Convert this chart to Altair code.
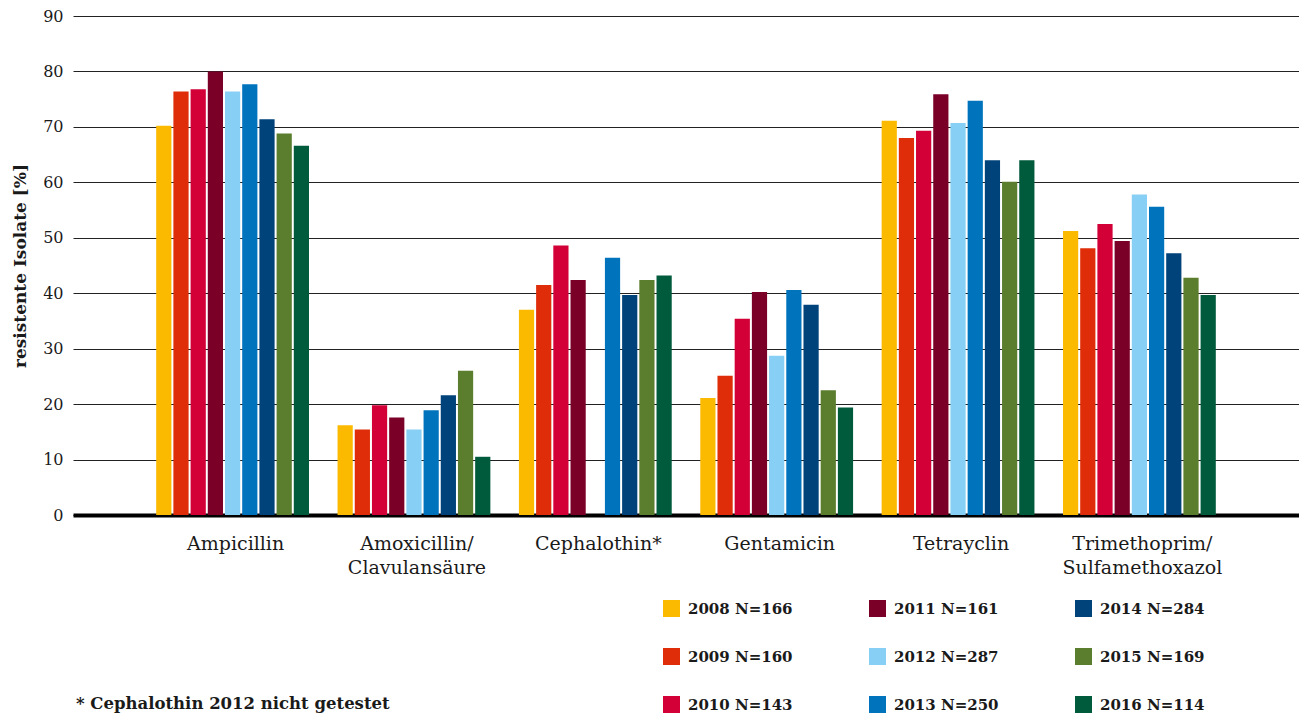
import altair as alt
import pandas as pd

# ---- data ----
categories = ["Ampicillin", "Amoxicillin/|Clavulansäure", "Cephalothin*",
              "Gentamicin", "Tetrayclin", "Trimethoprim/|Sulfamethoxazol"]
years = ["2008 N=166", "2009 N=160", "2010 N=143", "2011 N=161", "2012 N=287",
         "2013 N=250", "2014 N=284", "2015 N=169", "2016 N=114"]
colors = ["#FBBA00", "#DE2D08", "#D20037", "#7A0028", "#87CFF4",
          "#0073BD", "#00427A", "#5B7D2E", "#005A3C"]

ampicillin = [70.2, 76.4, 76.8, 80.0, 76.4, 77.7, 71.4, 68.8, 66.6]
amoxicillin = [16.2, 15.4, 19.8, 17.6, 15.4, 18.9, 21.6, 26.0, 10.5]
cephalothin = [37.0, 41.5, 48.6, 42.4, None, 46.4, 39.7, 42.4, 43.2]
gentamicin = [21.1, 25.1, 35.4, 40.2, 28.7, 40.6, 37.9, 22.5, 19.4]
tetracyclin = [71.1, 68.0, 69.3, 75.9, 70.7, 74.7, 64.0, 60.1, 64.0]
trimethoprim = [51.2, 48.1, 52.5, 49.4, 57.8, 55.6, 47.2, 42.8, 39.7]

note = "* Cephalothin 2012 nicht getestet"

series = [ampicillin, amoxicillin, cephalothin, gentamicin, tetracyclin, trimethoprim]
rows = []
for cat, vals in zip(categories, series):
    for yr, v in zip(years, vals):
        if v is not None:
            rows.append({"cat": cat, "year": yr, "value": v})
df = pd.DataFrame(rows)

FONT = "DejaVu Serif"

bars = alt.Chart(df).mark_bar().encode(
    x=alt.X("cat:N", sort=categories,
            scale=alt.Scale(paddingInner=0, paddingOuter=0.38),
            axis=alt.Axis(title=None, labelExpr="split(datum.label, '|')",
                          ticks=False, domain=True, domainColor="#000000",
                          domainWidth=4, labelPadding=19, labelOffset=3,
                          labelFont=FONT, labelFontSize=19, labelColor="#1a1a1a",
                          labelLineHeight=24, labelAngle=0)),
    xOffset=alt.XOffset("year:N", sort=years,
                        scale=alt.Scale(domain=years, paddingInner=0.116, paddingOuter=0.83)),
    y=alt.Y("value:Q",
            scale=alt.Scale(domain=[0, 90], nice=False),
            axis=alt.Axis(values=list(range(0, 91, 10)), title="resistente Isolate [%]",
                          grid=True, gridColor="#222222", gridWidth=1.2,
                          ticks=False, domain=False, labelPadding=10,
                          labelFont=FONT, labelFontSize=16, labelColor="#1a1a1a",
                          titleFont=FONT, titleFontSize=17, titleFontWeight="bold",
                          titleColor="#1a1a1a", titleX=-53, titleY=249.5,
                          titleAngle=-90, titleAlign="center", titleBaseline="middle")),
    color=alt.Color("year:N",
                    scale=alt.Scale(domain=years, range=colors),
                    legend=alt.Legend(title=None, orient="none", legendX=590, legendY=584,
                                      columns=3, columnPadding=76, rowPadding=31,
                                      symbolType="square", symbolSize=289,
                                      symbolStrokeWidth=0, symbolOpacity=1,
                                      labelFont=FONT, labelFontSize=15,
                                      labelFontWeight="bold", labelColor="#1a1a1a",
                                      labelOffset=8, padding=0, labelLimit=300)),
)

note_df = pd.DataFrame({"t": [note]})
note_layer = alt.Chart(note_df).mark_text(
    align="left", baseline="middle", font=FONT, fontSize=16.5,
    fontWeight="bold", color="#1a1a1a"
).encode(x=alt.value(3), y=alt.value(688), text="t:N")

chart = alt.layer(bars, note_layer).properties(
    width=1226, height=499,
    autosize=alt.AutoSizeParams(type="none"),
    padding={"left": 65, "top": 8, "right": 0, "bottom": 202},
).configure_view(stroke=None)

chart.save("out.html", embed_options={"renderer": "svg", "actions": False})
